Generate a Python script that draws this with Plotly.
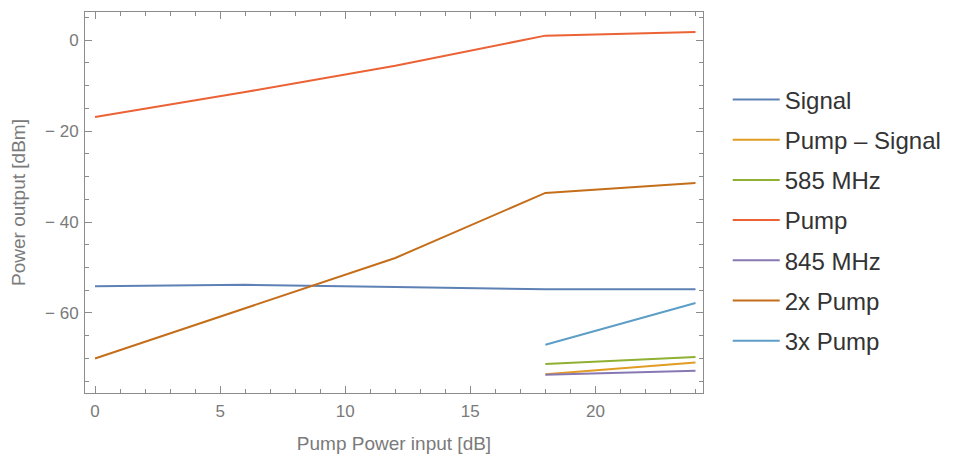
import plotly.graph_objects as go

x_full = [0, 6, 12, 18, 24]
x_high = [18, 24]

signal = [-54.1, -53.8, -54.3, -54.8, -54.8]
pump = [-16.9, -11.4, -5.6, 1.0, 1.8]
pump2x = [-70.0, -59.0, -47.9, -33.6, -31.4]

pump_minus_signal = [-73.5, -70.9]
mhz585 = [-71.2, -69.7]
mhz845 = [-73.6, -72.7]
pump3x = [-67.0, -57.8]

y_tick_vals = [-60, -40, -20, 0]
y_tick_text = ["\u2212 60", "\u2212 40", "\u2212 20", "0"]

series = [
    ("Signal", x_full, signal, "#5E81B5"),
    ("Pump \u2013 Signal", x_high, pump_minus_signal, "#E19C24"),
    ("585 MHz", x_high, mhz585, "#8FB032"),
    ("Pump", x_full, pump, "#EB6235"),
    ("845 MHz", x_high, mhz845, "#8778B3"),
    ("2x Pump", x_full, pump2x, "#C56E1A"),
    ("3x Pump", x_high, pump3x, "#5D9EC7"),
]

fig = go.Figure()
for i, (name, xs, ys, col) in enumerate(series):
    fig.add_trace(go.Scatter(x=xs, y=ys, mode="lines", name=name,
                             line=dict(color=col, width=2),
                             legendgroup=f"g{i}"))

FONT = "Liberation Sans, Arial"
axis_common = dict(
    showline=True, linecolor="#8c8c8c", linewidth=1, mirror="allticks",
    ticks="inside", tickcolor="#8c8c8c", showgrid=False, zeroline=False,
    tickfont=dict(family=FONT, size=17, color="#7a7a7a"),
)

fig.update_xaxes(range=[-0.4, 24.3], dtick=5, tick0=0, ticklen=7,
                 minor=dict(dtick=1, ticklen=4, ticks="inside", tickcolor="#8c8c8c"),
                 ticklabelstandoff=3,
                 title=dict(text="Pump Power input [dB]", standoff=16,
                            font=dict(family=FONT, size=19, color="#7a7a7a")),
                 **axis_common)
fig.update_yaxes(range=[-77.6, 6.2], tickmode="array", tickvals=y_tick_vals,
                 ticktext=y_tick_text, ticklen=7,
                 minor=dict(tickmode="linear", tick0=0, dtick=5, ticklen=4,
                            ticks="inside", tickcolor="#8c8c8c"),
                 ticklabelstandoff=2,
                 title=dict(text="Power output [dBm]", standoff=14,
                            font=dict(family=FONT, size=19, color="#7a7a7a")),
                 **axis_common)

fig.update_layout(
    width=956, height=457,
    margin=dict(l=85, r=253, t=12, b=64, autoexpand=False),
    plot_bgcolor="white", paper_bgcolor="white",
    legend=dict(x=1.04, y=0.453, xanchor="left", yanchor="middle",
                font=dict(family=FONT, size=24, color="#333333"),
                tracegroupgap=6, itemwidth=47),
)

fig.write_html("out.html")
